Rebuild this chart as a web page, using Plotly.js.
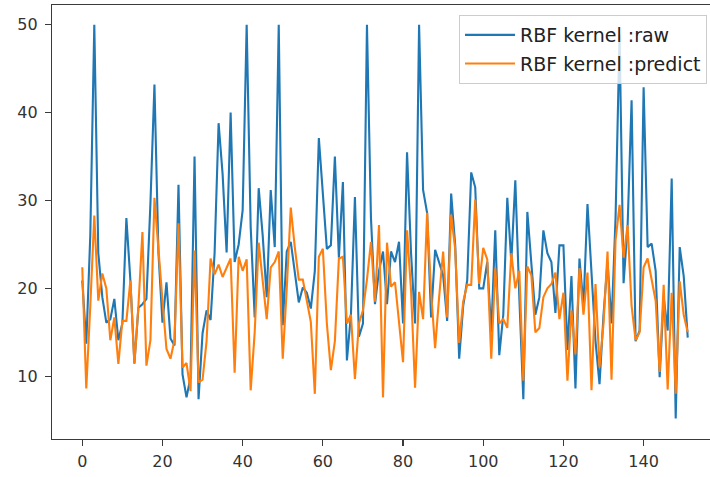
<!DOCTYPE html>
<html>
<head>
<meta charset="utf-8">
<script src="https://cdn.plot.ly/plotly-3.0.1.min.js"></script>
<style>
html,body{margin:0;padding:0;overflow:hidden;background:#fff;}
#chart{width:720px;height:477px;}
</style>
</head>
<body>
<div id="chart"></div>
<script>
var seriesNames = ["RBF kernel :raw", "RBF kernel :predict"];
var rawValues = [
20.9,13.7,26,50,24,19,16.1,16.5,18.8,14.1,
16,28,20.9,11.5,17.8,18.2,18.8,29.7,43.2,24,
16.1,20.7,14.3,13.5,31.8,10.2,7.6,9.9,35,7.4,
14.9,17.5,16.4,24,38.8,33,24.1,40,23,25,
28.9,50,27,16.7,31.4,26,19,31.2,24.7,50,
15.8,24.2,25.3,22,18.4,20.1,19.5,17.7,22,37.1,
30.5,24.5,24.9,35,23.5,32.1,11.8,17,30.4,14.5,
16,50,28,18.2,22,24.2,18.2,24.2,23,25.3,
16,35.5,24,16,50,31.2,28.6,16.7,24.4,22.8,
21.5,16.3,30.8,25,12,18,20.9,33.2,31.5,20,
20,23,15,26.6,12.4,17,30.3,23,32.3,19,
7.4,28.7,23,17,19,26.6,24,23,17.2,24.9,
24.9,13,21.4,8.6,23.4,18,29.6,21,14,9.1,
17,23,16,28,48.9,20.6,27,41.4,14,15.2,
42.9,24.7,25.1,22,9.9,19,15.2,32.5,5.2,24.7,
21.4,14.4
];
var predictValues = [
22.4,8.6,18,28.3,18.6,21.7,20,14.1,16.7,11.4,
16.3,16.3,20.9,11.4,18,26.4,11.2,14.1,30.3,24,
18.6,13.1,12,14.1,27.4,11,11.5,8.3,24.3,9.3,
9.6,14,23.4,21.6,22.7,21.3,22.3,23.4,10.4,23.6,
22,23.3,8.4,15,25.2,21,16.5,22.4,23,24.2,
12,20,29.2,24.7,21,21,18.7,16.2,8,23.6,
24.5,16,10.7,14,23.4,23.6,16,17,9.7,16,
17.5,21,25.3,18.5,27.2,7.6,25.2,20.2,20.7,15.7,
11.6,26.6,19.7,8.7,19.6,16.5,28.6,19.5,13.2,19,
24.2,16.7,28.4,24.5,13.8,18.5,20.4,20.4,30.1,20.5,
24.6,23.3,12,22.3,16,16.5,15.5,24,20,22,
9.5,22.5,21.5,15,15.5,19,20,20.5,21.8,16.5,
19.5,9.5,17.5,12.5,22.3,17,21.8,8.4,20.5,11,
16,24.2,9.6,25.5,29.5,23.5,27.2,18,14.1,15,
22.4,23.4,21,18.6,10.5,20.4,8.5,19.5,8,20.8,
17,15
];
var xIndex = rawValues.map(function(_, i){ return i; });
var xTicks = [0,20,40,60,80,100,120,140];
var yTicks = [10,20,30,40,50];

var traces = [
  {x: xIndex, y: rawValues, type: "scatter", mode: "lines", name: seriesNames[0],
   legendgroup: "a", line: {color: "#1f77b4", width: 2.1}},
  {x: xIndex, y: predictValues, type: "scatter", mode: "lines", name: seriesNames[1],
   legendgroup: "b", line: {color: "#ff7f0e", width: 2.1}}
];

var axisCommon = {
  showgrid: false, zeroline: false, showline: true, mirror: true,
  linecolor: "#3a3a3a", linewidth: 1.2,
  ticks: "outside", ticklen: 6, tickwidth: 1.2, tickcolor: "#3a3a3a",
  tickfont: {family: "DejaVu Sans", size: 16, color: "#333"}
};

var layout = {
  width: 720, height: 477,
  margin: {l: 52, r: 2, t: 5, b: 38},
  paper_bgcolor: "#fff", plot_bgcolor: "#fff",
  showlegend: true,
  xaxis: Object.assign({}, axisCommon, {range: [-7.55, 158.55], tickvals: xTicks,
    ticktext: xTicks.map(String), ticklabelstandoff: 2}),
  yaxis: Object.assign({}, axisCommon, {range: [2.86, 52.25], tickvals: yTicks,
    ticktext: yTicks.map(String), ticklabelstandoff: 4}),
  legend: {
    x: 0.9835, y: 0.977, xanchor: "right", yanchor: "top",
    bgcolor: "rgba(255,255,255,0.8)", bordercolor: "#cccccc", borderwidth: 1,
    font: {family: "DejaVu Sans", size: 19, color: "#222"},
    itemwidth: 50, tracegroupgap: 1
  }
};

Plotly.newPlot("chart", traces, layout, {displayModeBar: false, staticPlot: true});
</script>
</body>
</html>
